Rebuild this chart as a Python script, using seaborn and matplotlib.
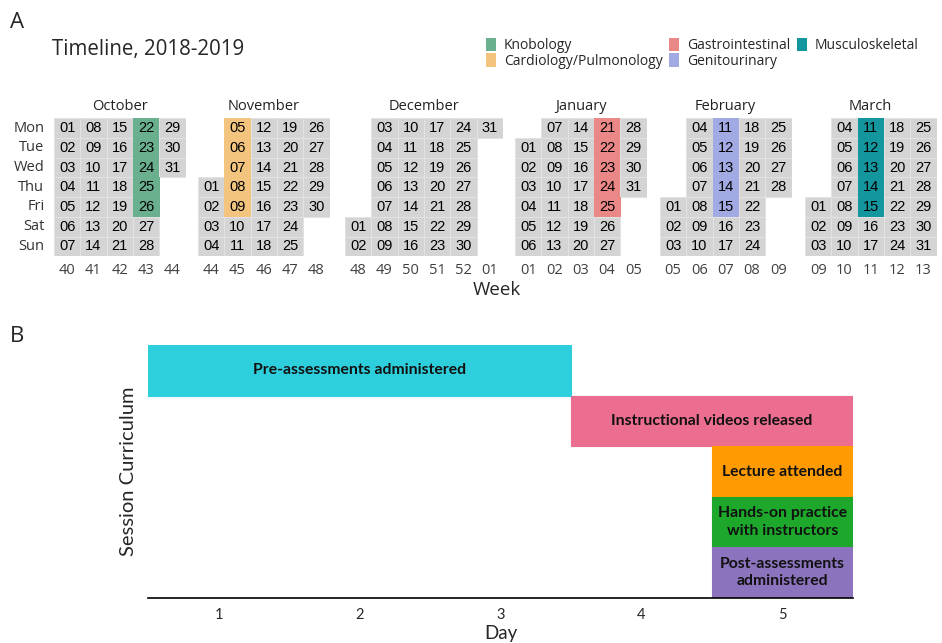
import datetime as dt
import numpy as np
import matplotlib.pyplot as plt
from matplotlib.colors import ListedColormap, to_rgba
from matplotlib.patches import Patch
import seaborn as sns

# --- calendar data (panel A) ---
months = ["October", "November", "December", "January", "February", "March"]
month_year = [2018, 2018, 2018, 2019, 2019, 2019]
month_num = [10, 11, 12, 1, 2, 3]
weekdays = ["Mon", "Tue", "Wed", "Thu", "Fri", "Sat", "Sun"]

sessions = ["Knobology", "Cardiology/Pulmonology", "Gastrointestinal",
            "Genitourinary", "Musculoskeletal"]
session_start = [dt.date(2018, 10, 22), dt.date(2018, 11, 5), dt.date(2019, 1, 21),
                 dt.date(2019, 2, 11), dt.date(2019, 3, 11)]
session_len = 5
session_colors = ["#6AB08F", "#F2C47E", "#EA8787", "#A1AAE3", "#14969F"]
day_color = "#D4D4D4"

# --- session curriculum data (panel B) ---
tasks = ["Pre-assessments administered", "Instructional videos released",
         "Lecture attended", "Hands-on practice\nwith instructors",
         "Post-assessments\nadministered"]
task_start = [0.5, 3.5, 4.5, 4.5, 4.5]
task_end = [3.5, 5.5, 5.5, 5.5, 5.5]
task_colors = ["#2ECFDD", "#EB6D8F", "#FF9B00", "#1DA82C", "#8C73BE"]
days = [1, 2, 3, 4, 5]


def month_grid(year, month):
    first = dt.date(year, month, 1)
    nxt = dt.date(year + month // 12, month % 12 + 1, 1)
    monday0 = first - dt.timedelta(days=first.weekday())
    ncols = ((nxt - dt.timedelta(days=1)) - monday0).days // 7 + 1
    codes = np.full((7, ncols), np.nan)
    labels = np.full((7, ncols), "", dtype=object)
    d = first
    while d < nxt:
        c = (d - monday0).days // 7
        r = d.weekday()
        codes[r, c] = 0
        for k, s in enumerate(session_start):
            if s <= d < s + dt.timedelta(days=session_len):
                codes[r, c] = k + 1
        labels[r, c] = f"{d.day:02d}"
        d += dt.timedelta(days=1)
    weeks = [f"{(monday0 + dt.timedelta(weeks=c)).isocalendar()[1]:02d}"
             for c in range(ncols)]
    return codes, labels, weeks


sns.set_theme(style="white")
plt.rcParams["font.family"] = ["Open Sans", "DejaVu Sans"]

W, H = 942, 643
fig = plt.figure(figsize=(W / 100, H / 100), dpi=100)

all_colors = [day_color] + session_colors
cmap = ListedColormap(all_colors)

# layout in pixels
cw, ch = 26.3, 19.7
cal_top = 118.3
lefts = [54, 198, 345, 515, 660, 805]

for i, (name, yr, mn) in enumerate(zip(months, month_year, month_num)):
    codes, labels, weeks = month_grid(yr, mn)
    ncols = codes.shape[1]
    ax = fig.add_axes([lefts[i] / W, 1 - (cal_top + 7 * ch) / H,
                       ncols * cw / W, 7 * ch / H])
    sns.heatmap(codes, ax=ax, cmap=cmap, vmin=-0.5, vmax=5.5, cbar=False,
                annot=labels, fmt="", linewidths=0,
                annot_kws={"fontsize": 10.5, "color": "black",
                           "family": "Liberation Sans"},
                xticklabels=weeks, yticklabels=weekdays if i == 0 else False)
    # faint borders on plain days, none on empty cells, own colour on sessions
    mesh = ax.collections[0]
    flat = codes.ravel()
    edge = []
    for v in flat:
        if np.isnan(v):
            edge.append((0, 0, 0, 0))
        elif v == 0:
            edge.append(to_rgba("#E2E2E2"))
        else:
            edge.append(to_rgba(all_colors[int(v)]))
    mesh.set_edgecolors(edge)
    mesh.set_linewidth(0.6)
    ax.set_title(name, fontsize=10.5, pad=6, color="#222222")
    ax.tick_params(axis="both", length=0)
    ax.tick_params(axis="x", pad=5, labelsize=10.5, labelcolor="#404040")
    ax.tick_params(axis="y", pad=7, labelsize=10.5, labelcolor="#333333")
    plt.setp(ax.get_xticklabels(), rotation=0)
    plt.setp(ax.get_yticklabels(), rotation=0)

fig.text(497 / W, 1 - 290 / H, "Week", ha="center", va="center", fontsize=13.5)
fig.text(52 / W, 1 - 50 / H, "Timeline, 2018-2019", ha="left", va="center",
         fontsize=14.8)
fig.text(10 / W, 1 - 22 / H, "A", ha="left", va="center", fontsize=16)
fig.text(10 / W, 1 - 337 / H, "B", ha="left", va="center", fontsize=16)

handles = [Patch(facecolor=c, edgecolor="none") for c in session_colors]
fig.legend(handles, sessions, loc="upper left",
           bbox_to_anchor=(486 / W, 1 - 38 / H), ncol=3, frameon=False,
           fontsize=10, handlelength=0.75, handleheight=1.1,
           handletextpad=0.55, labelspacing=0.0, columnspacing=0.45,
           borderpad=0, borderaxespad=0)

# --- panel B ---
axb = fig.add_axes([148 / W, 1 - 598 / H, (853 - 148) / W, (598 - 345) / H])
ypos = np.arange(len(tasks))
widths = np.array(task_end) - np.array(task_start)
axb.barh(ypos, widths, left=task_start, height=1.0, color=task_colors,
         edgecolor=task_colors, linewidth=0.8)
for y, s, w, t in zip(ypos, task_start, widths, tasks):
    axb.text(s + w / 2, y, t, ha="center", va="center", fontsize=11.3,
             fontweight="bold", family="Lato", color="#111111",
             linespacing=1.3)
axb.set_xlim(0.5, 5.5)
axb.set_ylim(len(tasks) - 0.5, -0.5)
axb.set_xticks(days)
axb.set_xticklabels([str(d) for d in days], family="Lato")
axb.set_yticks([])
axb.tick_params(axis="x", length=0, pad=7, labelsize=10.5)
sns.despine(ax=axb, left=True)
axb.spines["bottom"].set_color("black")
axb.spines["bottom"].set_linewidth(1.2)
axb.set_xlabel("Day", fontsize=13.5, family="Lato", labelpad=2)
axb.set_ylabel("Session Curriculum", fontsize=14.5, family="Lato", labelpad=8)

fig.savefig("out.png", dpi=100)
